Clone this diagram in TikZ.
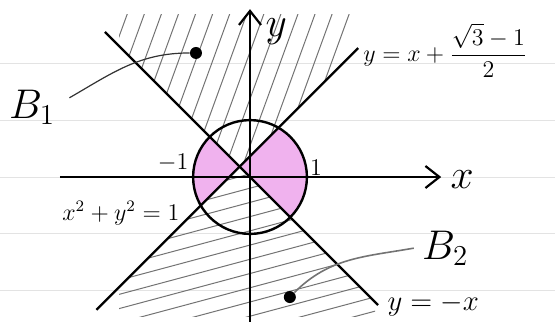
\documentclass[tikz,border=0pt]{standalone}
\usepackage{amsmath}
\usetikzlibrary{arrows.meta}

\definecolor{pinkfill}{RGB}{240,178,238}
\definecolor{pencil}{RGB}{115,115,115}

\begin{document}
\begin{tikzpicture}[
    x=1cm, y=1cm,
    axis/.style={line width=1.1pt, -{Straight Barb[length=7pt,width=11pt,line width=1.1pt]}},
    curve/.style={line width=1.2pt},
    hatch/.style={pencil, line width=0.5pt},
    rule/.style={gray!22, line width=0.5pt},
    dotmark/.style={circle, fill=black, inner sep=0pt, minimum size=6pt},
    lbl/.style={inner sep=1pt},
    big/.style={lbl, font=\fontsize{22}{26}\selectfont},
    mid/.style={lbl, font=\fontsize{14}{17}\selectfont},
    small/.style={lbl, font=\fontsize{12}{14}\selectfont}
]
\useasboundingbox (-4.394,-2.548) rectangle (5.360,3.111);
% ruled paper
\foreach \r in {-2,...,2}
  \draw[rule] (-4.394,\r) -- (5.360,\r);
% pink part of the disc: between the two lines
\begin{scope}
  \clip (0,0) circle (1);
  \fill[pinkfill] (-0.183,0.183) -- (-1.2,1.2) -- (-1.2,-0.834) -- cycle;
  \fill[pinkfill] (-0.183,0.183) -- (1.2,1.566) -- (1.2,-1.2) -- cycle;
\end{scope}
% hatching B1 (above both lines)
\begin{scope}
  \clip (-0.183,0.183) -- (-3,3) -- (2.634,3) -- cycle;
  \clip (-2.3,0) rectangle (1.8,2.85);
  \foreach \s in {-3.2,-2.9,...,0.8}
    \draw[hatch] (\s,0) -- ++(70:3.1);
\end{scope}
% hatching B2 (below both lines)
\begin{scope}
  \clip (-0.183,0.183) -- (2.9,-2.9) -- (-3.2,-2.834) -- cycle;
  \clip (-2.3,-2.45) rectangle (2.2,0.2);
  \foreach \t in {-4.0,-3.75,...,-0.6}
    \draw[hatch] (-3,\t) -- ++(15:5.8);
\end{scope}
% axes
\draw[axis] (-3.34,0) -- (3.36,0);
\draw[axis] (0,-2.6) -- (0,2.95);
\node[lbl, font=\fontsize{20}{24}\selectfont] (xlbl) at (3.73,-0.04) {$x$};
\node[lbl, font=\fontsize{20}{24}\selectfont] (ylbl) at (0.46,2.55) {$y$};
\node[small] (mone) at (-1.35,0.25) {$-1$};
\node[small] (one) at (1.16,0.16) {$1$};
% circle and lines
\draw[curve] (0,0) circle (1);
\draw[curve] (-2.7,-2.334) -- (1.9,2.266);
\draw[curve] (-2.55,2.55) -- (2.25,-2.25);
\node[small] (circ) at (-2.27,-0.63) {$x^2+y^2=1$};
\node[lbl, font=\fontsize{13}{16}\selectfont, anchor=west] (upline) at (1.95,2.22) {$y=x+\dfrac{\sqrt{3}-1}{2}$};
\node[mid] (dnline) at (3.22,-2.25) {$y=-x$};
% regions
\node[big] (B1) at (-3.83,1.23) {$B_1$};
\node[big] (B2) at (3.43,-1.25) {$B_2$};
\node[dotmark] (b1dot) at (-0.95,2.18) {};
\node[dotmark] (b2dot) at (0.70,-2.11) {};
\draw[black!80, line width=0.6pt] ([xshift=6pt]B1.20) to[out=30,in=180] (b1dot.west);
\draw[pencil, line width=0.8pt] (b2dot) to[out=45,in=190] ([xshift=-3pt]B2.west);
\end{tikzpicture}
\end{document}
